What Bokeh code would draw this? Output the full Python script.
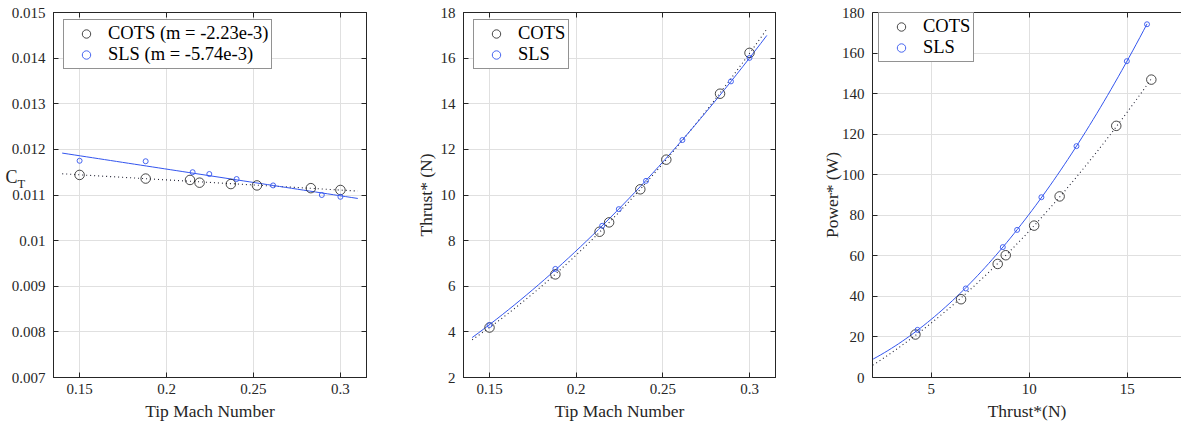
import numpy as np
from bokeh.plotting import figure
from bokeh.layouts import row
from bokeh.models import (Range1d, FixedTicker, LinearAxis, CustomJSTickFormatter,
                          Label, Legend, LegendItem)
from bokeh.embed import file_html
from bokeh.resources import INLINE

# ---------------- data ----------------
mach_cots = [0.150, 0.188, 0.2135, 0.219, 0.237, 0.252, 0.283, 0.300]
ct_cots = [0.01144, 0.01136, 0.01133, 0.01127, 0.01124, 0.01121, 0.01115, 0.01111]
thrust_cots = [4.19, 6.52, 8.39, 8.80, 10.25, 11.55, 14.44, 16.23]
power_cots = [21.2, 38.6, 56.0, 60.3, 74.9, 89.3, 124.1, 146.9]

mach_sls = [0.150, 0.188, 0.215, 0.2246, 0.2403, 0.2613, 0.2893, 0.300]
ct_sls = [0.01175, 0.01174, 0.01150, 0.01146, 0.01135, 0.01121, 0.01100, 0.01096]
thrust_sls = [4.30, 6.76, 8.65, 9.38, 10.62, 12.41, 14.98, 16.01]
power_sls = [23.5, 43.9, 64.3, 72.8, 88.9, 114.1, 156.0, 174.2]

legend_ct = ["COTS (m = -2.23e-3)", "SLS (m = -5.74e-3)"]
legend_plain = ["COTS", "SLS"]

mach_ticks = [0.15, 0.2, 0.25, 0.3]
ct_ticks = [0.007, 0.008, 0.009, 0.010, 0.011, 0.012, 0.013, 0.014, 0.015]
thrust_ticks = [2, 4, 6, 8, 10, 12, 14, 16, 18]
thrust_x_ticks = [5, 10, 15]
power_ticks = [0, 20, 40, 60, 80, 100, 120, 140, 160, 180]

# ---------------- styling ----------------
FONT = "Liberation Serif"
AX = "#262626"
GRID = "#e0e0e0"
BLUE = "#3355ee"
DOT = "#222233"
H = 425

fmt_code = "return parseFloat(tick.toFixed(6)).toString();"


def make_fig(width, ml, mr, xr, yr, xticks, yticks, xlabel, ylabel, ylab_standoff=2,
             outline=True, right=True):
    p = figure(width=width, height=H, x_range=Range1d(*xr), y_range=Range1d(*yr),
               output_backend="svg", toolbar_location=None,
               min_border_left=ml, min_border_right=mr, min_border_top=12, min_border_bottom=48)
    p.background_fill_color = "white"
    p.border_fill_color = "white"
    p.outline_line_color = AX if outline else None
    p.outline_line_width = 1
    for ax, ticks in ((p.xaxis[0], xticks), (p.yaxis[0], yticks)):
        ax.ticker = FixedTicker(ticks=ticks)
        ax.formatter = CustomJSTickFormatter(code=fmt_code)
        ax.major_tick_in = 5
        ax.major_tick_out = 0
        ax.minor_tick_line_color = None
        ax.axis_line_color = AX
        ax.major_tick_line_color = AX
        ax.major_label_text_font = FONT
        ax.major_label_text_font_size = "15px"
        ax.major_label_text_color = AX
        ax.axis_label_text_font = FONT
        ax.axis_label_text_font_size = "17.5px"
        ax.axis_label_text_font_style = "normal"
        ax.axis_label_text_color = AX
    p.xaxis[0].axis_label = xlabel
    p.xaxis[0].major_label_standoff = 6
    p.xaxis[0].axis_label_standoff = 4
    if ylabel:
        p.yaxis[0].axis_label = ylabel
    p.yaxis[0].major_label_standoff = 8
    p.yaxis[0].axis_label_standoff = ylab_standoff

    p.xgrid.ticker = FixedTicker(ticks=xticks)
    p.ygrid.ticker = FixedTicker(ticks=yticks)
    for g in (p.xgrid[0], p.ygrid[0]):
        g.grid_line_color = GRID
        g.grid_line_width = 1

    top = LinearAxis(ticker=FixedTicker(ticks=xticks),
                     formatter=CustomJSTickFormatter(code="return '';"),
                     major_tick_in=5, major_tick_out=0, minor_tick_line_color=None,
                     major_label_standoff=0, axis_label_standoff=0,
                     axis_line_color=AX, major_tick_line_color=AX,
                     major_label_text_font_size="1px")
    p.add_layout(top, "above")
    if right:
        rax = LinearAxis(ticker=FixedTicker(ticks=yticks),
                         formatter=CustomJSTickFormatter(code="return '';"),
                         major_tick_in=5, major_tick_out=0, minor_tick_line_color=None,
                         major_label_standoff=0, axis_label_standoff=0,
                         axis_line_color=AX, major_tick_line_color=AX,
                         major_label_text_font_size="1px")
        p.add_layout(rax, "right")
    return p


def add_legend(p, r1, r2, labels, loc):
    leg = Legend(items=[LegendItem(label=labels[0], renderers=[r1]),
                        LegendItem(label=labels[1], renderers=[r2])],
                 location=loc)
    leg.label_text_font = FONT
    leg.label_text_font_size = "18.5px"
    leg.label_text_color = "black"
    leg.border_line_color = AX
    leg.border_line_width = 1
    leg.background_fill_color = "white"
    leg.background_fill_alpha = 1
    leg.padding = 3
    leg.spacing = 0
    leg.margin = 0
    leg.glyph_width = 38
    leg.glyph_height = 21
    leg.label_height = 21
    leg.label_standoff = 3
    p.add_layout(leg)


def points(p, xc, yc, xs, ys):
    r1 = p.scatter(xc, yc, marker="circle", size=9.5, fill_color=None, line_color="#1a1a1a", line_width=0.8)
    r2 = p.scatter(xs, ys, marker="circle", size=5, fill_color=None, line_color=BLUE, line_width=0.9)
    return r1, r2


# ---------------- panel 1: CT vs tip Mach ----------------
p1 = make_fig(410, 53, 44, (0.135, 0.315), (0.007, 0.015), mach_ticks, ct_ticks,
              "Tip Mach Number", None)
xf = np.linspace(0.14, 0.31, 50)
c_lin = np.polyfit(mach_cots, ct_cots, 1)
s_lin = np.polyfit(mach_sls, ct_sls, 1)
p1.line(xf, np.polyval(c_lin, xf), line_color=DOT, line_width=1.1, line_dash="1 3")
p1.line(xf, np.polyval(s_lin, xf), line_color=BLUE, line_width=1)
r1, r2 = points(p1, mach_cots, ct_cots, mach_sls, ct_sls)
add_legend(p1, r1, r2, legend_ct, (10, 308))
# y label "C_T" (horizontal), placed via the roomy right-side panel so the frame is not shifted
lab_c = Label(x=-361, y=201, x_units="screen", y_units="screen", text="C", text_font=FONT,
              text_font_size="18px", text_color=AX, text_baseline="alphabetic")
lab_t = Label(x=-361, y=194, x_units="screen", y_units="screen", text="T", text_font=FONT,
              text_font_size="12.5px", text_color=AX, text_baseline="alphabetic")
p1.add_layout(lab_c, "right")
p1.add_layout(lab_t, "right")

# ---------------- panel 2: thrust vs tip Mach ----------------
p2 = make_fig(390, 53, 25, (0.135, 0.315), (2, 18), mach_ticks, thrust_ticks,
              "Tip Mach Number", "Thrust* (N)")
c_q = np.polyfit(mach_cots, thrust_cots, 2)
s_q = np.polyfit(mach_sls, thrust_sls, 2)
p2.line(xf, np.polyval(c_q, xf), line_color=DOT, line_width=1.1, line_dash="1 3")
p2.line(xf, np.polyval(s_q, xf), line_color=BLUE, line_width=1)
r1, r2 = points(p2, mach_cots, thrust_cots, mach_sls, thrust_sls)
add_legend(p2, r1, r2, legend_plain, (10, 308))

# ---------------- panel 3: power vs thrust ----------------
p3 = make_fig(381, 72, 0, (2, 17.77), (0, 180), thrust_x_ticks, power_ticks,
              "Thrust*(N)", "Power* (W)", ylab_standoff=-3, outline=False, right=False)
xc3 = np.linspace(1.5, max(thrust_cots), 80)
xs3 = np.linspace(1.5, max(thrust_sls), 80)
cp = np.polyfit(thrust_cots, power_cots, 2)
sp = np.polyfit(thrust_sls, power_sls, 2)
p3.line(xc3, np.polyval(cp, xc3), line_color=DOT, line_width=1.1, line_dash="1 3")
p3.line(xs3, np.polyval(sp, xs3), line_color=BLUE, line_width=1)
r1, r2 = points(p3, thrust_cots, power_cots, thrust_sls, power_sls)
add_legend(p3, r1, r2, legend_plain, (6, 315))

layout = row(p1, p2, p3)
open("out.html", "w").write(file_html(layout, INLINE))
